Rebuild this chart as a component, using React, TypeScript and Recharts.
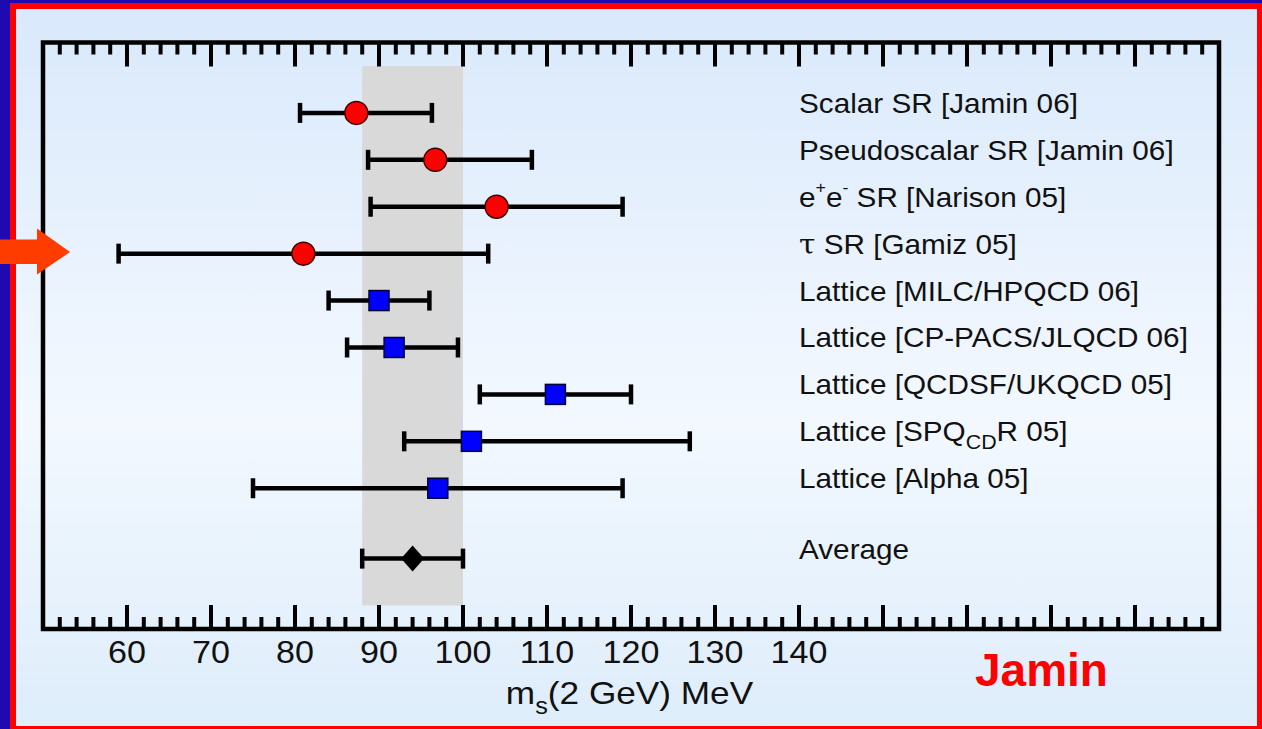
import React from 'react';
import { ScatterChart, Scatter, XAxis, YAxis, ErrorBar, ReferenceArea } from 'recharts';

// determinations of m_s(2 GeV), top to bottom
const labels = [
  'Scalar SR [Jamin 06]',
  'Pseudoscalar SR [Jamin 06]',
  'e^{+}e^{-} SR [Narison 05]',
  'τ SR [Gamiz 05]',
  'Lattice [MILC/HPQCD 06]',
  'Lattice [CP-PACS/JLQCD 06]',
  'Lattice [QCDSF/UKQCD 05]',
  'Lattice [SPQ_{CD}R 05]',
  'Lattice [Alpha 05]',
  'Average',
];
const rows = [0, 1, 2, 3, 4, 5, 6, 7, 8, 9.5];
const centers = [87.3, 96.7, 104, 81, 90, 91.8, 111, 101, 97, 94];
const lows = [80.6, 88.7, 89, 59, 84, 86.2, 102, 93, 75, 88];
const highs = [96.3, 108.2, 119, 103, 96, 99.4, 120, 127, 119, 100];
const kinds = ['sr', 'sr', 'sr', 'sr', 'lat', 'lat', 'lat', 'lat', 'lat', 'avg'];

const band = [88, 100];
const xDomain = [50, 190];
const yDomain = [-1.5, 11];
const majorTicks = [50, 60, 70, 80, 90, 100, 110, 120, 130, 140, 150, 160, 170, 180, 190];
const labelledTicks = [60, 70, 80, 90, 100, 110, 120, 130, 140];

const W = 1262;
const H = 729;
const MARGIN = { top: 42.5, right: 43, bottom: 100, left: 43 };
const PLOT_TOP = MARGIN.top;
const PLOT_BOTTOM = H - MARGIN.bottom;
const LABEL_X = 799;
const STRETCH = 1.1;
const FONT = '"Liberation Sans", Arial, sans-serif';

const points = centers.map((c, i) => ({
  x: c,
  y: rows[i],
  err: [c - lows[i], highs[i] - c],
  kind: kinds[i],
}));

// minor ticks every 2 between the majors
const allTicks: number[] = [];
majorTicks.forEach((t, i) => {
  allTicks.push(t);
  if (i < majorTicks.length - 1) [2, 4, 6, 8].forEach((d) => allTicks.push(t + d));
});

const RichText = ({ text, fontSize }: { text: string; fontSize: number }) => {
  const parts = text.split(/(\^\{[^}]*\}|_\{[^}]*\}|τ)/).filter(Boolean);
  let shift = 0;
  return (
    <>
      {parts.map((p, i) => {
        let target = 0;
        let size = fontSize;
        let content = p;
        let family: string | undefined;
        if (p.startsWith('^{')) {
          target = -0.5 * fontSize;
          size = 0.6 * fontSize;
          content = p.slice(2, -1);
        } else if (p.startsWith('_{')) {
          target = 0.3 * fontSize;
          size = 0.72 * fontSize;
          content = p.slice(2, -1);
        } else if (p === 'τ') {
          family = '"DejaVu Serif", serif';
        }
        const dy = target - shift;
        shift = target;
        return (
          <tspan key={i} dy={dy} fontSize={size} fontFamily={family}>
            {content}
          </tspan>
        );
      })}
    </>
  );
};

const XTick = (props: any) => {
  const { x, payload } = props;
  const v = payload.value;
  const major = v % 10 === 0;
  const len = major ? 24 : 12;
  return (
    <g>
      <line x1={x} x2={x} y1={PLOT_BOTTOM} y2={PLOT_BOTTOM - len} stroke="#000" strokeWidth={4} />
      <line x1={x} x2={x} y1={PLOT_TOP} y2={PLOT_TOP + len} stroke="#000" strokeWidth={4} />
      {labelledTicks.includes(v) && (
        <g transform={`translate(${x},${PLOT_BOTTOM + 34}) scale(${STRETCH},1)`}>
          <text x={0} y={0} textAnchor="middle" fontSize={31} fill="#111" fontFamily={FONT}>
            {v}
          </text>
        </g>
      )}
    </g>
  );
};

const RowLabel = (props: any) => {
  const { y, payload } = props;
  const idx = rows.indexOf(payload.value);
  if (idx < 0) return <g />;
  return (
    <g transform={`translate(${LABEL_X},${y}) scale(${STRETCH},1)`}>
      <text x={0} y={0} fontSize={27} fill="#111" fontFamily={FONT}>
        <RichText text={labels[idx]} fontSize={27} />
      </text>
    </g>
  );
};

const Circle = (props: any) => (
  <circle cx={props.cx} cy={props.cy} r={11.5} fill="#ff0000" stroke="#3a0000" strokeWidth={1.5} />
);
const Square = (props: any) => (
  <rect x={props.cx - 10} y={props.cy - 10} width={20} height={20} fill="#0000ff" stroke="#00003a" strokeWidth={1.5} />
);
const Diamond = (props: any) => (
  <polygon
    points={`${props.cx},${props.cy - 13} ${props.cx + 11.5},${props.cy} ${props.cx},${props.cy + 13} ${props.cx - 11.5},${props.cy}`}
    fill="#000"
  />
);
const Nothing = () => <g />;

export default function App() {
  return (
    <div style={{ position: 'absolute', left: 0, top: 0, width: W, height: H, background: '#1f0ab2', overflow: 'hidden' }}>
      <div style={{ position: 'absolute', left: 10, top: 3, right: 0, bottom: 0, background: '#ff0000' }} />
      <div
        style={{
          position: 'absolute',
          left: 16,
          top: 9,
          right: 5,
          bottom: 3,
          background: 'linear-gradient(to bottom, #d9e9fb 0%, #eef5fe 45%, #f2f8fe 58%, #deedfb 100%)',
        }}
      />
      <div style={{ position: 'absolute', left: 0, top: 0 }}>
        <ScatterChart width={W} height={H} margin={MARGIN}>
          <XAxis
            type="number"
            dataKey="x"
            domain={xDomain}
            ticks={allTicks}
            interval={0}
            tick={XTick}
            tickLine={false}
            axisLine={false}
            mirror
            allowDataOverflow
          />
          <YAxis
            type="number"
            dataKey="y"
            domain={yDomain}
            reversed
            ticks={rows}
            interval={0}
            tick={RowLabel}
            tickLine={false}
            axisLine={false}
            mirror
            allowDataOverflow
          />
          <ReferenceArea x1={band[0]} x2={band[1]} y1={-1} y2={10.5} fill="#d9d9d9" fillOpacity={1} stroke="none" />
          <Scatter data={points} shape={<Nothing />} isAnimationActive={false}>
            <ErrorBar dataKey="err" direction="x" width={10} stroke="#000" strokeWidth={4.5} />
          </Scatter>
          <Scatter data={points.filter((p) => p.kind === 'sr')} shape={<Circle />} isAnimationActive={false} />
          <Scatter data={points.filter((p) => p.kind === 'lat')} shape={<Square />} isAnimationActive={false} />
          <Scatter data={points.filter((p) => p.kind === 'avg')} shape={<Diamond />} isAnimationActive={false} />
          <ReferenceArea x1={xDomain[0]} x2={xDomain[1]} y1={yDomain[0]} y2={yDomain[1]} fill="none" stroke="#000" strokeWidth={4.5} />
        </ScatterChart>
      </div>
      <svg width={W} height={H} style={{ position: 'absolute', left: 0, top: 0, pointerEvents: 'none' }}>
        <polygon points="0,239.5 37,239.5 37,228.5 70,252 37,274.5 37,264 0,264" fill="#ff3c00" />
        <g transform={`translate(629.5,704) scale(${STRETCH},1)`}>
          <text x={0} y={0} textAnchor="middle" fontSize={32} fill="#111" fontFamily={FONT}>
            <RichText text="m_{s}(2 GeV) MeV" fontSize={32} />
          </text>
        </g>
        <text x={975} y={686} fontSize={46} fontWeight="bold" fill="#ff0000" fontFamily={FONT}>
          Jamin
        </text>
      </svg>
    </div>
  );
}
